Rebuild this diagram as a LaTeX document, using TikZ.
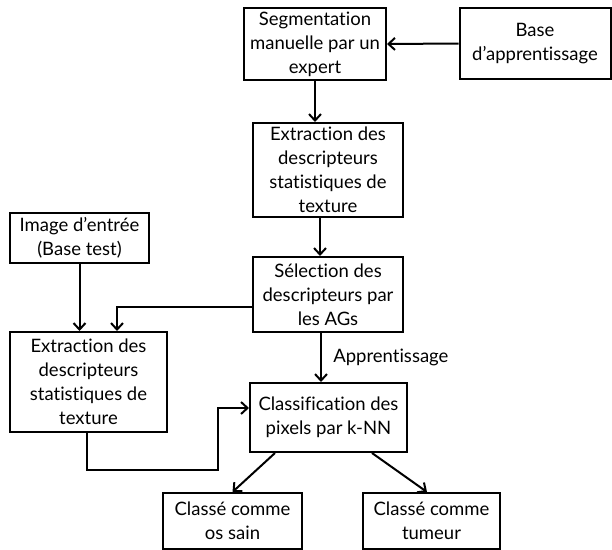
\documentclass[tikz,border=0pt]{standalone}
\usepackage{fontspec}
\setmainfont{Lato}[Ligatures={NoCommon,NoRare,NoDiscretionary}]
\usetikzlibrary{arrows.meta,calc}
\tikzset{
  box/.style={draw=black,line width=2pt,rectangle,align=center,inner sep=0pt,
    font=\fontsize{18.5}{24}\selectfont},
  conn/.style={line width=2pt,-{Straight Barb[length=6.5pt,width=12pt]}},
}
\begin{document}
\begin{tikzpicture}[x=1pt,y=-1pt]
\useasboundingbox (0,0) rectangle (612,549);
\node[box,minimum width=142pt,minimum height=72pt] (seg) at (315,44) {Segmentation\\manuelle par un\\expert};
\node[box,minimum width=151pt,minimum height=71pt] (base) at (535,43.5) {Base\\d’apprentissage};
\node[box,minimum width=150pt,minimum height=94pt] (ext1) at (328,170) {Extraction des\\descripteurs\\statistiques de\\texture};
\node[box,minimum width=139pt,minimum height=50pt] (img) at (79.5,238) {Image d’entrée\\(Base test)};
\node[box,minimum width=150pt,minimum height=75pt] (sel) at (328,294.5) {Sélection des\\descripteurs par\\les AGs};
\node[box,minimum width=157pt,minimum height=100pt] (ext2) at (88.5,382) {Extraction des\\descripteurs\\statistiques de\\texture};
\node[box,minimum width=157pt,minimum height=69pt] (cls) at (328.5,417.5) {Classification des\\pixels par k-NN};
\node[box,minimum width=139pt,minimum height=56pt] (os) at (232.5,521) {Classé comme\\os sain};
\node[box,minimum width=137pt,minimum height=56pt] (tum) at (431.5,521) {Classé comme\\tumeur};
\coordinate (p1) at (218,470);
\draw[conn] (base.west) -- (seg.east);
\draw[conn] (seg.south) -- (seg.south |- ext1.north);
\draw[conn] ([xshift=-8pt]ext1.south) -- ([xshift=-8pt]sel.north);
\draw[conn] ([xshift=-7pt]sel.south) -- node[right=8pt,font=\fontsize{18.5}{24}\selectfont]{Apprentissage} ([xshift=-7.5pt]cls.north);
\draw[conn] ([yshift=-12.5pt]sel.west) -| ([xshift=28.5pt]ext2.north);
\draw[conn] (img.south) -- (img.south |- ext2.north);
\draw[conn] ([xshift=-1.5pt]ext2.south) |- (p1) |- ([yshift=9.5pt]cls.west);
\draw[conn] ([xshift=-53.5pt]cls.south) -- (os.north);
\draw[conn] ([xshift=43.5pt]cls.south) -- ([xshift=-4.5pt]tum.north);
\end{tikzpicture}
\end{document}
